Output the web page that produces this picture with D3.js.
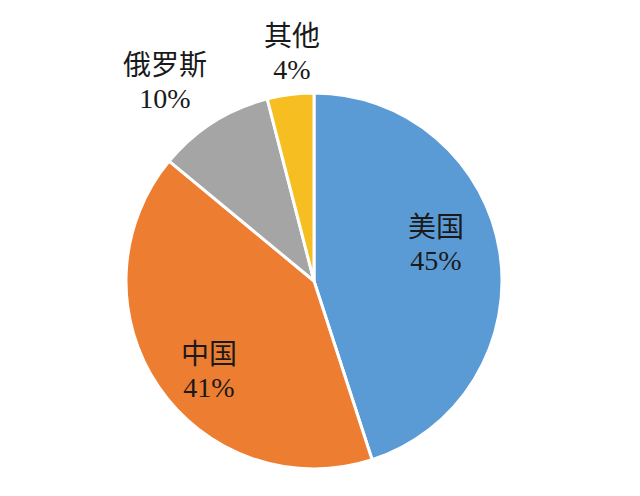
<!DOCTYPE html>
<html><head><meta charset="utf-8">
<script src="https://cdn.jsdelivr.net/npm/d3@7"></script>
<style>html,body{margin:0;padding:0;background:#fff;}</style>
</head><body>
<svg id="chart" width="640" height="496"></svg>
<script>
const categories = ["美国", "中国", "俄罗斯", "其他"];
const values = [45, 41, 10, 4];
const labels = ["45%", "41%", "10%", "4%"];
const colors = ["#5B9BD5", "#ED7D31", "#A5A5A5", "#F7BE22"];
// label anchor positions (name baseline) relative to pie center
const labelPos = [[122, -44], [-105, 83], [-149, -206], [-22, -235]];

const svg = d3.select("#chart");
const cx = 314, cy = 281, r = 188;
const g = svg.append("g").attr("transform", `translate(${cx},${cy})`);
const data = categories.map((c, i) => ({name: c, value: values[i], label: labels[i], color: colors[i], pos: labelPos[i]}));
const pie = d3.pie().value(d => d.value).sort(null);
const arc = d3.arc().innerRadius(0).outerRadius(r);

g.selectAll("path").data(pie(data)).join("path")
  .attr("d", arc)
  .attr("fill", d => d.data.color)
  .attr("stroke", "#fff")
  .attr("stroke-width", 3)
  .attr("stroke-linejoin", "round");

const font = "'Liberation Serif', 'Noto Sans CJK SC', serif";
const lg = g.selectAll("g.lbl").data(data).join("g").attr("class", "lbl")
  .attr("transform", d => `translate(${d.pos[0]},${d.pos[1]})`);
lg.append("text").attr("text-anchor", "middle").attr("y", 0)
  .attr("font-family", font).attr("font-size", 28).attr("fill", "#1a1a1a")
  .text(d => d.name);
lg.append("text").attr("text-anchor", "middle").attr("y", 33)
  .attr("font-family", font).attr("font-size", 28).attr("fill", "#1a1a1a")
  .text(d => d.label);
</script>
</body></html>
